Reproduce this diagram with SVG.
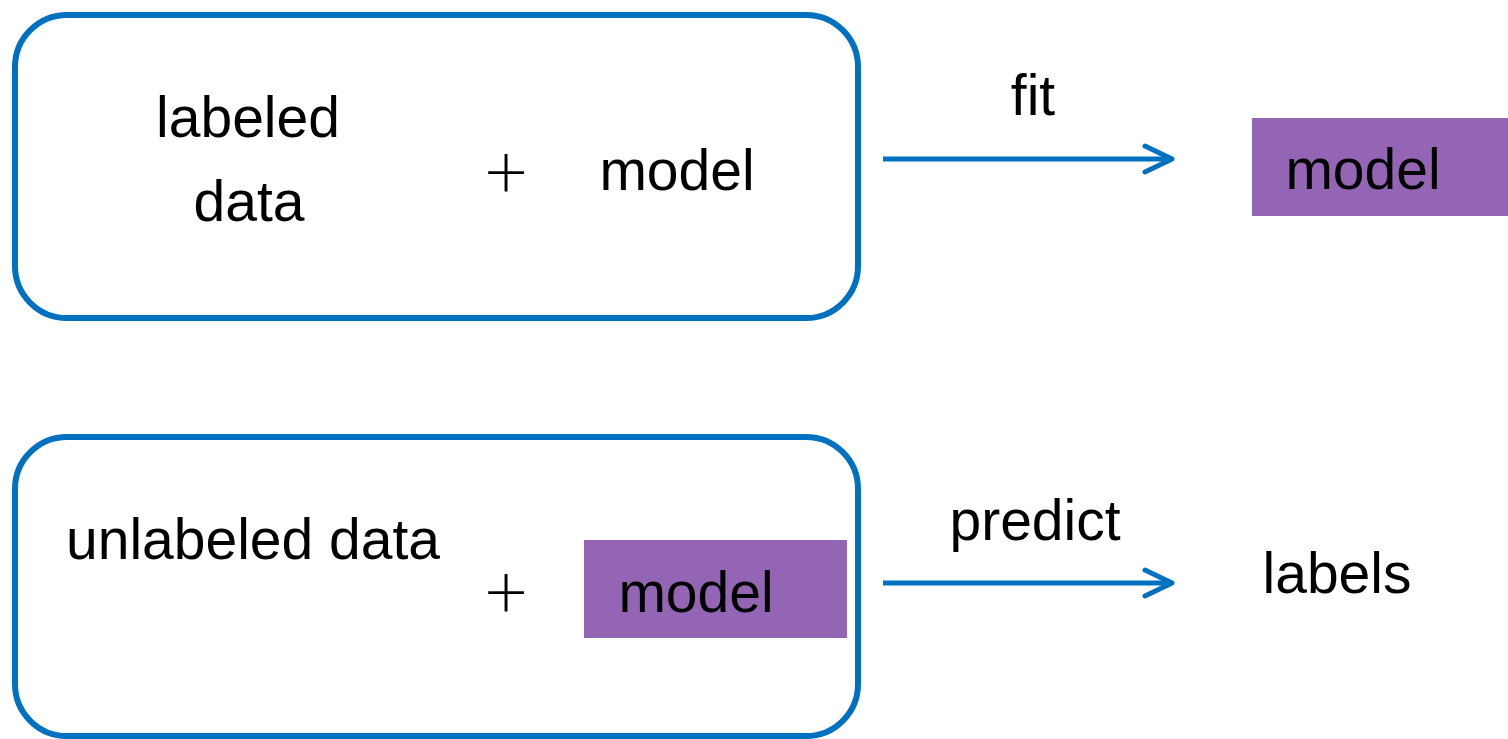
<svg xmlns="http://www.w3.org/2000/svg" width="1508" height="739" viewBox="0 0 1508 739">
  <style>
    .frame { fill: #ffffff; stroke: #0070C0; stroke-width: 6; }
    .model { fill: #9565B5; }
    .t { font-family: "Liberation Sans", Arial, sans-serif; font-size: 57px; fill: #000000; }
    .plus { font-family: Lato, "Liberation Sans", sans-serif; font-weight: 300; font-size: 76px; fill: #000000; }
    .link { fill: none; stroke: #0070C0; stroke-width: 5; }
  </style>
  <defs>
    <marker id="chevron" markerUnits="userSpaceOnUse" markerWidth="40" markerHeight="40" viewBox="-34 -20 40 40" refX="0" refY="0" orient="auto">
      <path d="M-27,-13 L0,0 L-27,13" fill="none" stroke="#0070C0" stroke-width="5" stroke-linecap="round" stroke-linejoin="round"/>
    </marker>
  </defs>
  <rect width="1508" height="739" fill="#ffffff"/>

  <!-- training step -->
  <g id="train-inputs">
    <rect class="frame" x="15" y="15" width="843" height="303" rx="52" ry="52"/>
    <text class="t" x="248" y="137" text-anchor="middle">labeled</text>
    <text class="t" x="249" y="221" text-anchor="middle">data</text>
    <text class="plus" x="506" y="198" text-anchor="middle">+</text>
    <text class="t" x="677" y="190" text-anchor="middle">model</text>
  </g>

  <g id="fitted-model">
    <rect class="model" x="1252" y="118" width="256" height="98"/>
    <text class="t" x="1363" y="189" text-anchor="middle">model</text>
  </g>

  <!-- prediction step -->
  <g id="predict-inputs">
    <rect class="frame" x="15" y="437" width="843" height="299" rx="52" ry="52"/>
    <text class="t" x="253" y="559" text-anchor="middle">unlabeled data</text>
    <text class="plus" x="506" y="618" text-anchor="middle">+</text>
    <rect class="model" x="584" y="540" width="263" height="98"/>
    <text class="t" x="696" y="612" text-anchor="middle">model</text>
  </g>

  <g id="labels-output">
    <text class="t" x="1337" y="593" text-anchor="middle">labels</text>
  </g>

  <g id="connectors">
    <path class="link" d="M883,159 H1172" marker-end="url(#chevron)"/>
    <text class="t" x="1033" y="115" text-anchor="middle">fit</text>
    <path class="link" d="M883,583 H1172" marker-end="url(#chevron)"/>
    <text class="t" x="1035" y="540" text-anchor="middle">predict</text>
  </g>
</svg>
